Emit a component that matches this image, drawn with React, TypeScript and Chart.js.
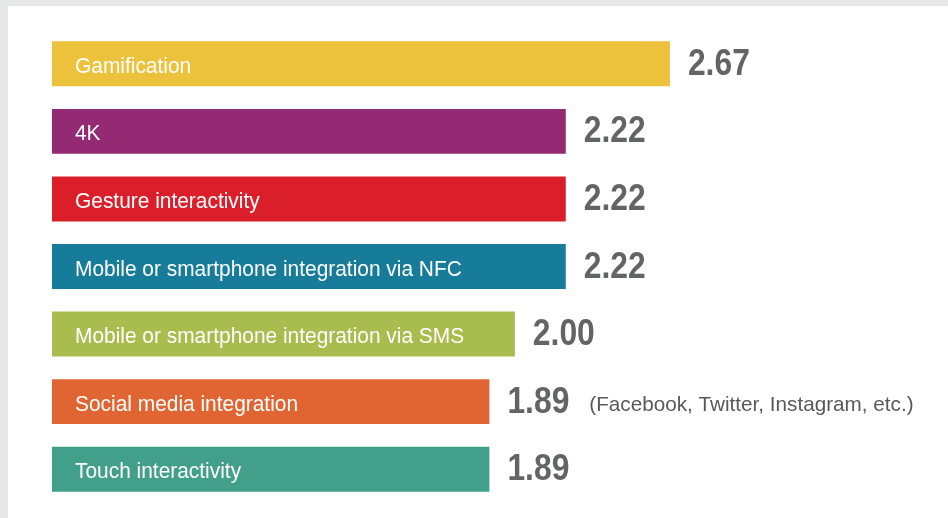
import React, { useEffect, useRef } from "react";
import { Chart, registerables } from "chart.js";

Chart.register(...registerables);

const categories = [
  "Gamification",
  "4K",
  "Gesture interactivity",
  "Mobile or smartphone integration via NFC",
  "Mobile or smartphone integration via SMS",
  "Social media integration",
  "Touch interactivity",
];
const values = [2.67, 2.22, 2.22, 2.22, 2.0, 1.89, 1.89];
const valueLabels = ["2.67", "2.22", "2.22", "2.22", "2.00", "1.89", "1.89"];
const notes = ["", "", "", "", "", "(Facebook, Twitter, Instagram, etc.)", ""];
const colors = ["#ECC13B", "#942A73", "#DA1F2B", "#167C9A", "#A9BC4E", "#E06532", "#42A08A"];

const FONT = '"Liberation Sans", Arial, sans-serif';

function squeezed(ctx: CanvasRenderingContext2D, text: string, x: number, y: number, sx: number) {
  ctx.save();
  ctx.translate(x, y);
  ctx.scale(sx, 1);
  ctx.fillText(text, 0, 0);
  ctx.restore();
  return ctx.measureText(text).width * sx;
}

const labelPlugin = {
  id: "barLabels",
  afterDatasetsDraw(chart: any) {
    const ctx = chart.ctx as CanvasRenderingContext2D;
    const meta = chart.getDatasetMeta(0);
    ctx.save();
    ctx.textBaseline = "alphabetic";
    ctx.textAlign = "left";
    meta.data.forEach((bar: any, i: number) => {
      const left = bar.base;
      const right = bar.x;
      const y = bar.y;
      ctx.fillStyle = "#ffffff";
      ctx.font = `22px ${FONT}`;
      squeezed(ctx, categories[i], left + 23, y + 9, 0.95);
      ctx.fillStyle = "#636466";
      ctx.font = `bold 37px ${FONT}`;
      const w = squeezed(ctx, valueLabels[i], right + 18, y + 11, 0.86);
      if (notes[i]) {
        ctx.fillStyle = "#58595b";
        ctx.font = `21px ${FONT}`;
        squeezed(ctx, notes[i], right + 18 + w + 20, y + 9, 0.985);
      }
    });
    ctx.restore();
  },
};

export default function App() {
  const ref = useRef<HTMLCanvasElement>(null);
  useEffect(() => {
    if (!ref.current) return;
    const chart = new Chart(ref.current, {
      type: "bar",
      data: {
        labels: categories,
        datasets: [
          {
            data: values,
            backgroundColor: colors,
            borderWidth: 0,
            barPercentage: 1,
            categoryPercentage: 0.665,
          },
        ],
      },
      options: {
        indexAxis: "y",
        animation: false,
        responsive: false,
        maintainAspectRatio: false,
        layout: { padding: { left: 52, right: 86, top: 30, bottom: 15 } },
        plugins: { legend: { display: false }, tooltip: { enabled: false } },
        scales: {
          x: { display: false, min: 0, max: 3.5 },
          y: { display: false },
        },
      },
      plugins: [labelPlugin],
    });
    return () => chart.destroy();
  }, []);
  return (
    <div style={{ position: "fixed", left: 0, top: 0, width: 948, height: 518, background: "#E6E7E8" }}>
      <div style={{ position: "absolute", left: 8, top: 6, right: 0, bottom: 0, background: "#ffffff" }} />
      <canvas ref={ref} width={948} height={518} style={{ position: "absolute", left: 0, top: 0 }} />
    </div>
  );
}
